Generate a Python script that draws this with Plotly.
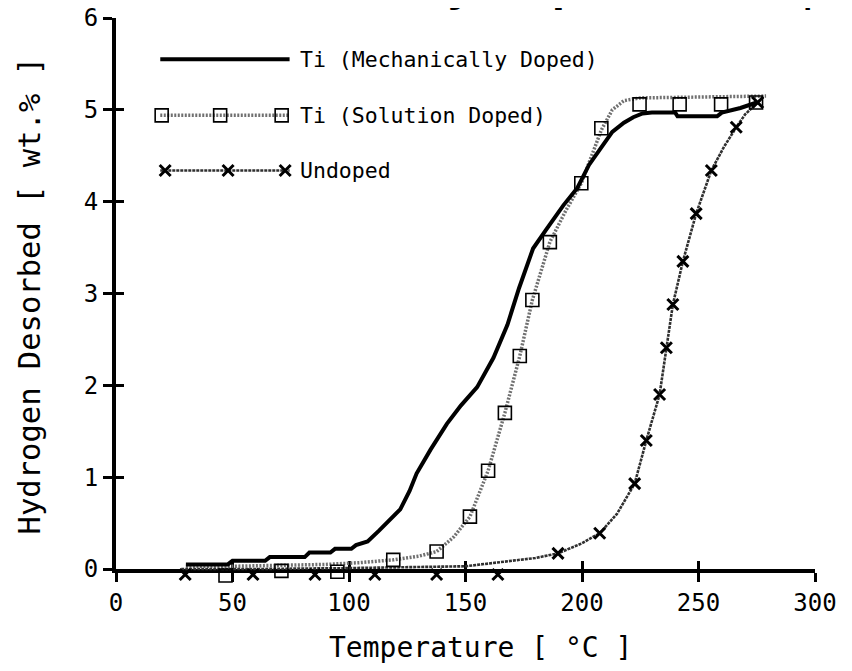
import plotly.graph_objects as go

# ---------------- data ----------------
mech_T = [30, 48, 50, 64, 66, 81, 83, 92, 94, 101, 103, 108, 113, 118, 122, 126, 129, 135, 142, 148,
          155, 162, 168, 173, 179, 185, 192, 198, 203, 208, 213, 218, 222, 226, 230, 240, 241, 258, 260, 268, 275]
mech_w = [0.05, 0.05, 0.09, 0.09, 0.13, 0.13, 0.18, 0.18, 0.22, 0.22, 0.26, 0.30, 0.42, 0.55, 0.65, 0.85, 1.04, 1.30, 1.58, 1.78,
          1.98, 2.30, 2.66, 3.06, 3.49, 3.71, 3.96, 4.15, 4.40, 4.58, 4.76, 4.86, 4.92, 4.96, 4.97, 4.97, 4.93, 4.93, 4.97, 5.02, 5.08]

sol_line_T = [30, 50, 70, 90, 105, 119, 130, 137.6, 145, 151.9, 159.7, 166.9, 173.3, 178.7, 186.2, 193, 199.7, 208.3, 213, 218, 225, 279]
sol_line_w = [0.03, 0.03, 0.04, 0.05, 0.07, 0.10, 0.14, 0.19, 0.35, 0.57, 1.07, 1.70, 2.32, 2.93, 3.56, 3.90, 4.20, 4.78, 5.00, 5.10, 5.13, 5.15]
sol_mark_T = [47, 71, 95, 119, 137.6, 151.9, 159.7, 166.9, 173.3, 178.7, 186.2, 199.7, 208.3, 224.7, 241.9, 259.7, 274.7]
sol_mark_w = [-0.07, -0.02, -0.03, 0.10, 0.19, 0.57, 1.07, 1.70, 2.32, 2.93, 3.56, 4.20, 4.80, 5.06, 5.06, 5.06, 5.08]

und_line_T = [28, 60, 100, 140, 150, 160, 170, 180, 189.7, 200, 207.6, 215, 222.6, 227.6, 233.3, 236.2, 239, 243.3, 249, 255.5, 261, 266.2, 270, 275.4, 278]
und_line_w = [0.00, 0.00, 0.01, 0.02, 0.03, 0.06, 0.09, 0.12, 0.17, 0.28, 0.39, 0.60, 0.93, 1.40, 1.90, 2.41, 2.88, 3.35, 3.87, 4.34, 4.60, 4.81, 4.95, 5.08, 5.15]
und_mark_T = [29.7, 58.8, 85.4, 111.1, 137.6, 163.9, 189.7, 207.6, 222.6, 227.6, 233.3, 236.2, 239, 243.3, 249, 255.5, 266.2, 275.4]
und_mark_w = [-0.06, -0.06, -0.06, -0.06, -0.06, -0.06, 0.17, 0.39, 0.93, 1.40, 1.90, 2.41, 2.88, 3.35, 3.87, 4.34, 4.81, 5.08]

x_ticks = [0, 50, 100, 150, 200, 250, 300]
y_ticks = [0, 1, 2, 3, 4, 5, 6]

series_names = ["Ti (Mechanically Doped)", "Ti (Solution Doped)", "Undoped"]
x_title = "Temperature [ °C ]"
y_title = "Hydrogen Desorbed [ wt.% ]"
top_title = "Chemically Doped NaAlH<sub>4</sub>"

# ---------------- styles ----------------
FONT = "DejaVu Sans Mono"
MECH_LINE = dict(color="black", width=4)
SOL_LINE = dict(color="#707070", width=3.5, dash="2px,1.5px")
SOL_MARK = dict(symbol="square-open", size=13, color="black", line=dict(width=1.6, color="black"))
UND_LINE = dict(color="#303030", width=2.6, dash="3px,1px")
UND_MARK = dict(symbol="x-thin-open", size=11, color="black", line=dict(width=3, color="black"))

# layout geometry: the visible y axis (0..6) sits in domain [D, 1]; the data axis y3 spans the
# full height with the same scale so that points slightly below zero are still drawn.
Y_MAX = 6.0
D = 0.035
Y3_MIN = -Y_MAX * D / (1 - D)

# legend key geometry (data units of the plot area)
LEG_X0, LEG_X1, LEG_TX = 19, 74.5, 78
LEG_Y = [5.55, 4.94, 4.34]
LEG_SOL_MX = [19.6, 44.7, 71.1]
LEG_UND_MX = [21.1, 48.1, 72.6]

fig = go.Figure()

# data traces
fig.add_trace(go.Scatter(x=sol_line_T, y=sol_line_w, yaxis="y3", mode="lines", line=SOL_LINE, showlegend=False))
fig.add_trace(go.Scatter(x=und_line_T, y=und_line_w, yaxis="y3", mode="lines", line=UND_LINE, showlegend=False))
fig.add_trace(go.Scatter(x=mech_T, y=mech_w, yaxis="y3", mode="lines", line=MECH_LINE, showlegend=False))
fig.add_trace(go.Scatter(x=sol_mark_T, y=sol_mark_w, yaxis="y3", mode="markers", marker=SOL_MARK, showlegend=False))
fig.add_trace(go.Scatter(x=und_mark_T, y=und_mark_w, yaxis="y3", mode="markers", marker=UND_MARK, showlegend=False))

# legend keys drawn like the original
fig.add_trace(go.Scatter(x=[LEG_X0, LEG_X1], y=[LEG_Y[0]] * 2, yaxis="y3", mode="lines", line=MECH_LINE, showlegend=False))
fig.add_trace(go.Scatter(x=[LEG_X0, LEG_X1], y=[LEG_Y[1]] * 2, yaxis="y3", mode="lines", line=SOL_LINE, showlegend=False))
fig.add_trace(go.Scatter(x=LEG_SOL_MX, y=[LEG_Y[1]] * 3, yaxis="y3", mode="markers", marker=SOL_MARK, showlegend=False))
fig.add_trace(go.Scatter(x=[LEG_X0, LEG_X1], y=[LEG_Y[2]] * 2, yaxis="y3", mode="lines", line=UND_LINE, showlegend=False))
fig.add_trace(go.Scatter(x=LEG_UND_MX, y=[LEG_Y[2]] * 3, yaxis="y3", mode="markers", marker=UND_MARK, showlegend=False))

# dummy traces so the axes own subplots
fig.add_trace(go.Scatter(x=[None], y=[None], xaxis="x", yaxis="y", showlegend=False, hoverinfo="skip"))
fig.add_trace(go.Scatter(x=[None], y=[None], xaxis="x2", yaxis="y2", showlegend=False, hoverinfo="skip"))

annotations = []
for name, yy in zip(series_names, LEG_Y):
    annotations.append(dict(x=LEG_TX, y=yy, xref="x", yref="y3", text=name, showarrow=False,
                            xanchor="left", yanchor="middle", font=dict(family=FONT, size=21.5, color="black")))
annotations.append(dict(x=0.521, y=-0.1033, xref="paper", yref="paper", text=x_title, showarrow=False,
                        xanchor="center", yanchor="middle", font=dict(family=FONT, size=28, color="black")))
annotations.append(dict(x=-0.124, y=0.513, xref="paper", yref="paper", text=y_title, showarrow=False,
                        textangle=-90, xanchor="center", yanchor="middle", font=dict(family=FONT, size=30.5, color="black")))
annotations.append(dict(x=1.0, y=1.0, xref="paper", yref="paper", text=top_title, showarrow=False,
                        xanchor="right", yanchor="bottom", yshift=-1,
                        font=dict(family="Liberation Sans", size=48, color="black", weight="bold")))

axis_common = dict(showgrid=False, zeroline=False, ticks="outside", ticklen=9, tickwidth=3, tickcolor="black",
                   showline=True, linewidth=4, linecolor="black", automargin=False, ticklabeloverflow="allow",
                   tickfont=dict(family=FONT, size=24, color="black"))
inner_ticks = dict(ticks="inside", ticklen=8, tickwidth=3, tickcolor="black", showticklabels=False,
                   showline=False, showgrid=False, zeroline=False, automargin=False)

# the page places the figure 8 px from the window's top-left corner, margins allow for that
fig.update_layout(
    width=852, height=671,
    margin=dict(l=108, r=45, t=10, b=90),
    paper_bgcolor="white", plot_bgcolor="rgba(0,0,0,0)",
    showlegend=False,
    xaxis=dict(range=[0, 300], tickvals=x_ticks, anchor="y", **axis_common),
    yaxis=dict(range=[0, Y_MAX], tickvals=y_ticks, domain=[D, 1], anchor="x", **axis_common),
    yaxis3=dict(range=[Y3_MIN, Y_MAX], domain=[0, 1], anchor="x", visible=False,
                showgrid=False, zeroline=False, automargin=False),
    xaxis2=dict(range=[0, 300], tickvals=x_ticks, overlaying="x", anchor="y2", side="bottom", **inner_ticks),
    yaxis2=dict(range=[0, Y_MAX], tickvals=y_ticks, domain=[D, 1], overlaying="y", anchor="x2", side="left", **inner_ticks),
    annotations=annotations,
)

fig.write_html("out.html")
